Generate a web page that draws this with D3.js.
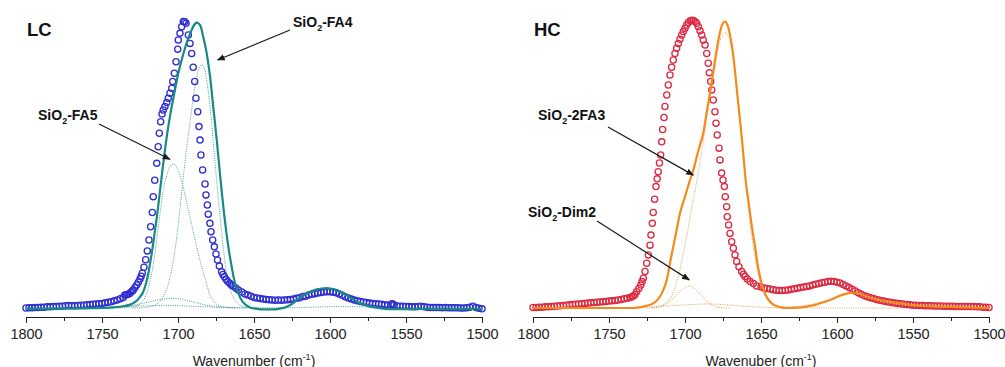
<!DOCTYPE html>
<html>
<head>
<meta charset="utf-8">
<script src="https://cdn.jsdelivr.net/npm/d3@7"></script>
<style>
  body { margin: 0; background: #fff; }
  text { font-family: "Liberation Sans", Arial, sans-serif; }
</style>
</head>
<body>
<div id="app"></div>
<script>
const WIDTH = 1005
const HEIGHT = 367

// measured spectra [wavenumber, normalised absorbance]
const lcMeasured = [
  [1800,0.000],[1798,0.001],[1796,0.001],[1794,0.002],[1792,0.002],[1790,0.003],[1788,0.003],[1786,0.004],
  [1784,0.004],[1782,0.005],[1780,0.005],[1778,0.006],[1776,0.006],[1774,0.008],[1772,0.009],[1770,0.008],
  [1768,0.008],[1766,0.009],[1764,0.010],[1762,0.010],[1760,0.011],[1758,0.012],[1756,0.013],[1754,0.014],
  [1752,0.015],[1750,0.016],[1748,0.018],[1746,0.020],[1744,0.022],[1742,0.025],[1740,0.028],[1738,0.032],
  [1736,0.037],[1735,0.045],[1734,0.046],[1733,0.048],[1732,0.050],[1731,0.055],[1730,0.059],[1729.4,0.063],
  [1728.3,0.071],[1727.2,0.080],[1726.1,0.090],[1725,0.101],[1724.2,0.111],[1723.5,0.121],[1722.4,0.142],
  [1721.3,0.168],[1720.2,0.199],[1719.1,0.237],[1718,0.283],[1716.9,0.333],[1716.3,0.388],[1715.3,0.445],
  [1714,0.504],[1713,0.562],[1712.3,0.609],[1711.4,0.649],[1710.5,0.676],[1709.7,0.690],[1708.6,0.702],
  [1707.4,0.716],[1706.4,0.731],[1705.3,0.748],[1704.1,0.766],[1703.5,0.789],[1702.4,0.818],[1701.3,0.858],
  [1700.2,0.902],[1699.8,0.934],[1698.7,0.957],[1697.6,0.980],[1696.5,0.998],[1695.6,0.997],[1694.7,0.992],
  [1693.2,0.951],[1692.1,0.922],[1691,0.887],[1690,0.839],[1689,0.789],[1688.2,0.731],[1687,0.684],
  [1686.2,0.632],[1685.5,0.585],[1684.9,0.533],[1683.8,0.481],[1682.2,0.432],[1681.6,0.394],[1680.7,0.359],
  [1680.1,0.327],[1679,0.295],[1678.3,0.266],[1677.2,0.237],[1676.1,0.213],[1675,0.188],[1674,0.167],
  [1672.8,0.146],[1671.3,0.126],[1670.4,0.117],[1669.5,0.109],[1668.4,0.100],[1667.3,0.092],[1666,0.086],
  [1665,0.081],[1664,0.077],[1662,0.070],[1660.3,0.063],[1658,0.056],[1656,0.049],[1654,0.045],[1652,0.041],
  [1650,0.037],[1648,0.035],[1646,0.033],[1644,0.031],[1642,0.030],[1640,0.029],[1638,0.028],[1636,0.027],
  [1634,0.028],[1632,0.027],[1630,0.028],[1628,0.029],[1626,0.030],[1624,0.031],[1622,0.034],[1620,0.036],
  [1618,0.040],[1616,0.041],[1614,0.045],[1612,0.048],[1610,0.050],[1608,0.052],[1606,0.054],[1604,0.056],
  [1602,0.057],[1600,0.057],[1598,0.055],[1596,0.053],[1594,0.049],[1592,0.044],[1590,0.039],[1588,0.035],
  [1586,0.031],[1584,0.028],[1582,0.025],[1580,0.023],[1578,0.021],[1576,0.019],[1574,0.017],[1572,0.016],
  [1570,0.015],[1568,0.014],[1566,0.013],[1564,0.011],[1562,0.010],[1560,0.012],[1559,0.015],[1558,0.011],
  [1556,0.007],[1554,0.006],[1552,0.006],[1550,0.005],[1548,0.005],[1546,0.004],[1544,0.004],[1542,0.005],
  [1540,0.006],[1538,0.004],[1536,0.003],[1534,0.002],[1532,0.002],[1530,0.002],[1528,0.002],[1526,0.001],
  [1524,0.002],[1522,0.001],[1520,0.001],[1518,0.001],[1516,0.001],[1514,0.000],[1512,0.000],[1510,0.001],
  [1508,0.003],[1506,0.006],[1504,0.002],[1502,-0.001],[1500,-0.003]
]

const hcMeasured = [
  [1800,0.002],[1798,0.002],[1796,0.003],[1794,0.003],[1792,0.004],[1790,0.004],[1788,0.005],[1786,0.006],
  [1784,0.007],[1782,0.008],[1780,0.009],[1778,0.010],[1776,0.011],[1774,0.012],[1772,0.013],[1770,0.014],
  [1768,0.015],[1766,0.016],[1764,0.017],[1762,0.018],[1760,0.019],[1758,0.020],[1756,0.021],[1754,0.022],
  [1752,0.023],[1750,0.024],[1748,0.025],[1746,0.026],[1744,0.028],[1742,0.030],[1740,0.032],[1738,0.034],
  [1736,0.037],[1735,0.039],[1734,0.042],[1733,0.046],[1731.8,0.057],[1730.4,0.068],[1729.1,0.080],
  [1728.2,0.092],[1727.4,0.104],[1726.3,0.127],[1725.2,0.156],[1724.1,0.185],[1723,0.219],[1722.4,0.254],
  [1721.5,0.295],[1720.9,0.333],[1720,0.379],[1719.1,0.423],[1718.3,0.450],[1717.6,0.475],[1716.8,0.505],
  [1716,0.533],[1715.3,0.579],[1714.7,0.622],[1713.8,0.664],[1713.2,0.702],[1712,0.742],[1711,0.777],
  [1709.9,0.812],[1708.8,0.839],[1707.7,0.864],[1706.6,0.887],[1705.5,0.905],[1704.4,0.922],[1703.3,0.936],
  [1702.2,0.951],[1701.1,0.963],[1700,0.975],[1698.9,0.986],[1697.8,0.995],[1696.7,1.000],[1695.6,1.003],
  [1694.5,1.002],[1693.4,0.998],[1692.3,0.992],[1691.2,0.980],[1690.1,0.966],[1689,0.951],[1688,0.934],
  [1686.8,0.916],[1685.7,0.887],[1684.7,0.853],[1684,0.820],[1683.1,0.789],[1682.4,0.760],[1681.4,0.725],
  [1680.3,0.684],[1679.6,0.644],[1678.8,0.603],[1677.6,0.557],[1677,0.516],[1675.9,0.470],[1675,0.446],
  [1674.1,0.423],[1673.5,0.388],[1672.6,0.353],[1672.2,0.318],[1671.3,0.289],[1670.4,0.260],[1669.3,0.231],
  [1668.2,0.208],[1667.1,0.185],[1666,0.162],[1664.5,0.144],[1662.7,0.127],[1661.5,0.118],[1660.5,0.110],
  [1659,0.101],[1657.2,0.092],[1655,0.085],[1652.8,0.077],[1650,0.073],[1648,0.070],[1646,0.068],
  [1644,0.066],[1642,0.064],[1640,0.062],[1638,0.061],[1636,0.061],[1634,0.062],[1632,0.063],[1630,0.065],
  [1628,0.067],[1626,0.069],[1624,0.071],[1622,0.073],[1620,0.075],[1618,0.077],[1616,0.080],[1614,0.083],
  [1612,0.085],[1610,0.088],[1608,0.090],[1606,0.092],[1604,0.093],[1602,0.092],[1600,0.090],[1598,0.087],
  [1596,0.082],[1594,0.077],[1592,0.071],[1590,0.065],[1588,0.059],[1586,0.053],[1584,0.048],[1582,0.043],
  [1580,0.039],[1578,0.036],[1576,0.033],[1574,0.030],[1572,0.027],[1570,0.025],[1568,0.023],[1566,0.021],
  [1564,0.019],[1562,0.017],[1560,0.016],[1558,0.015],[1556,0.013],[1554,0.012],[1552,0.011],[1550,0.010],
  [1548,0.010],[1546,0.009],[1544,0.009],[1542,0.008],[1540,0.008],[1538,0.008],[1536,0.007],[1534,0.007],
  [1532,0.007],[1530,0.006],[1528,0.006],[1526,0.006],[1524,0.006],[1522,0.005],[1520,0.005],[1518,0.005],
  [1516,0.005],[1514,0.005],[1512,0.005],[1510,0.005],[1508,0.004],[1506,0.004],[1504,0.003],[1502,0.003],
  [1500,0.002]
]

// calculated spectra (solid)
const lcFit = [
  [1800,-0.002],[1780,-0.002],[1760,-0.001],[1750,0.000],[1742,0.002],[1736,0.006],[1732,0.011],[1729.4,0.017],
  [1727,0.026],[1725,0.039],[1723,0.055],[1721.7,0.074],[1720.5,0.097],[1719.5,0.121],[1718,0.167],
  [1716.6,0.214],[1715.1,0.272],[1713.6,0.330],[1712.3,0.388],[1711,0.446],[1708.6,0.550],[1706.4,0.632],
  [1704.1,0.702],[1702,0.760],[1699.8,0.818],[1697.6,0.864],[1695.4,0.905],[1693.2,0.940],[1691,0.969],
  [1688.8,0.990],[1687.7,0.994],[1685.5,0.986],[1683.4,0.945],[1681.1,0.887],[1678.9,0.806],[1676.8,0.701],
  [1674.5,0.585],[1672.4,0.469],[1671.3,0.410],[1669.7,0.330],[1668.4,0.272],[1666.9,0.214],[1665.1,0.156],
  [1663,0.098],[1660.3,0.051],[1658,0.026],[1655.9,0.013],[1652.6,0.002],[1648,-0.003],[1643.9,-0.005],
  [1638,-0.005],[1632.9,-0.002],[1629,0.003],[1626.3,0.010],[1624,0.018],[1621.9,0.028],[1618.5,0.040],
  [1615.3,0.051],[1612,0.059],[1608.8,0.065],[1605.5,0.068],[1602.2,0.069],[1598.9,0.067],[1595.6,0.063],
  [1592.3,0.055],[1589,0.045],[1585.7,0.033],[1582.4,0.022],[1578,0.012],[1573.7,0.005],[1568,0.000],
  [1562.7,-0.004],[1550,-0.004],[1530,-0.003],[1500,-0.003]
]

const hcFit = [
  [1800,0.000],[1760,0.000],[1745,0.000],[1734,0.000],[1727.4,0.005],[1720.9,0.016],[1715.3,0.051],
  [1712,0.098],[1709.9,0.156],[1707.7,0.214],[1705.5,0.272],[1703.3,0.330],[1700,0.388],[1696.7,0.446],
  [1694,0.490],[1692.3,0.527],[1690,0.570],[1688,0.609],[1685.8,0.680],[1683.6,0.748],[1681.5,0.820],
  [1679.2,0.899],[1677,0.960],[1675.5,0.988],[1673.7,0.998],[1671.8,0.982],[1670,0.940],[1668.5,0.890],
  [1667,0.820],[1665.5,0.740],[1664,0.665],[1662.6,0.590],[1661.2,0.510],[1659.9,0.435],[1658.3,0.375],
  [1657.2,0.330],[1655.7,0.272],[1653.9,0.214],[1652.4,0.156],[1650.2,0.098],[1647.4,0.051],[1643,0.016],
  [1638,0.004],[1632,0.000],[1626,0.001],[1620,0.005],[1615,0.010],[1611,0.017],[1606,0.025],[1602,0.034],
  [1597,0.045],[1592,0.052],[1589,0.054],[1586,0.051],[1582,0.043],[1577,0.034],[1572,0.028],[1566,0.022],
  [1561,0.018],[1555,0.014],[1550,0.010],[1540,0.007],[1532,0.005],[1515,0.002],[1500,0.000]
]

// band components (dotted)
const lcFA4 = [
  [1730,0],[1722,0.002],[1716,0.008],[1711,0.030],[1706,0.090],[1702,0.200],[1699,0.330],[1697,0.430],
  [1694.5,0.550],[1692,0.650],[1689.5,0.750],[1687,0.820],[1684.4,0.847],[1682,0.820],[1680,0.750],
  [1678,0.650],[1676,0.530],[1674,0.410],[1672,0.300],[1670,0.200],[1668,0.120],[1665,0.055],[1661,0.018],
  [1656,0.004],[1648,0]
]
const lcFA5 = [
  [1740,0],[1730,0.004],[1724,0.020],[1720,0.060],[1716,0.160],[1713,0.280],[1710,0.400],[1707,0.470],
  [1703,0.502],[1700,0.480],[1697,0.430],[1694,0.360],[1691,0.290],[1688,0.220],[1685,0.155],[1682,0.100],
  [1679,0.045],[1676,0.020],[1673,0.008],[1669,0.003],[1662,0]
]
const lcBroad1 = [
  [1745,0],[1735,0.005],[1725,0.014],[1715,0.026],[1708,0.032],[1704,0.034],[1699,0.032],[1692,0.024],
  [1684,0.013],[1675,0.005],[1665,0.001],[1655,0]
]
const lcBroad2 = [
  [1770,0],[1750,0.002],[1735,0.005],[1720,0.008],[1710,0.009],[1700,0.008],[1685,0.005],[1670,0.002],
  [1650,0.001],[1630,0.001],[1610,0.003],[1595,0.005],[1580,0.004],[1560,0.002],[1540,0.001],[1520,0]
]
const hc2FA3 = [
  [1725,0],[1718,0.005],[1712,0.020],[1708,0.050],[1704,0.120],[1700,0.220],[1695.5,0.350],[1692,0.450],
  [1688,0.580],[1684,0.720],[1680,0.850],[1677,0.930],[1673.5,0.960],[1670,0.920],[1666,0.770],[1662,0.550],
  [1658,0.330],[1654,0.180],[1650,0.080],[1646,0.030],[1640,0.008],[1632,0]
]
const hcDim2 = [
  [1722,0],[1716,0.005],[1711,0.018],[1706,0.042],[1701.5,0.066],[1697.5,0.077],[1693.5,0.067],
  [1689.5,0.045],[1685.5,0.022],[1681,0.007],[1676,0.001],[1670,0]
]
const hcBroad1 = [
  [1745,0],[1730,0.002],[1715,0.006],[1700,0.011],[1685,0.014],[1670,0.010],[1655,0.004],[1640,0.001],
  [1620,0],[1580,0],[1540,0],[1500,0]
]
const hcBand1590 = [
  [1640,0],[1625,0.006],[1612,0.018],[1602,0.033],[1594,0.048],[1589,0.053],[1584,0.048],[1576,0.034],
  [1566,0.020],[1555,0.010],[1540,0.003],[1520,0]
]

const majorTicks = [1800, 1750, 1700, 1650, 1600, 1550, 1500]
const minorTicks = [1775, 1725, 1675, 1625, 1575, 1525]

const panels = [
  {
    title: 'LC', xLabel: 'Wavenumber (cm', left: 26,
    measured: lcMeasured, fit: lcFit, parts: [lcBroad2, lcBroad1, lcFA5, lcFA4],
    ring: '#2f2fd0', line: '#178a83', dot: '#4e9c97',
    notes: [
      { pre: 'SiO', post: '-FA4', tx: 293, ty: 27, from: [290, 30], to: [1674, 0.864] },
      { pre: 'SiO', post: '-FA5', tx: 38, ty: 120, from: [99, 124], to: [1705.3, 0.518] }
    ]
  },
  {
    title: 'HC', xLabel: 'Wavenuber (cm', left: 533,
    measured: hcMeasured, fit: hcFit, parts: [hcBroad1, hcBand1590, hcDim2, hc2FA3],
    ring: '#db2a42', line: '#f38b1c', dot: '#dca35e',
    notes: [
      { pre: 'SiO', post: '-2FA3', tx: 538, ty: 120, from: [608, 127], to: [1694.5, 0.463] },
      { pre: 'SiO', post: '-Dim2', tx: 528, ty: 217, from: [597, 221], to: [1697.2, 0.098] }
    ]
  }
]

const svg = d3.select('#app').append('svg')
  .attr('width', WIDTH)
  .attr('height', HEIGHT)

svg.append('defs').append('marker')
  .attr('id', 'head')
  .attr('viewBox', '0 0 10 10')
  .attr('refX', 9).attr('refY', 5)
  .attr('markerWidth', 8).attr('markerHeight', 8)
  .attr('markerUnits', 'userSpaceOnUse')
  .attr('orient', 'auto')
.append('path')
  .attr('d', 'M0,1 L10,5 L0,9 Z')
  .attr('fill', '#1a1a1a')

const y = d3.scaleLinear().domain([0, 1]).range([308, 21])
const AXIS_Y = 317

panels.forEach(p => {
  const x = d3.scaleLinear().domain([1800, 1500]).range([p.left, p.left + 456])
  const line = d3.line()
    .x(d => x(d[0]))
    .y(d => y(d[1]))
    .curve(d3.curveMonotoneX)

  const g = svg.append('g')

  // components
  g.selectAll('path.part')
    .data(p.parts)
    .enter()
  .append('path')
    .attr('class', 'part')
    .attr('d', line)
    .attr('fill', 'none')
    .attr('stroke', p.dot)
    .attr('stroke-width', 1)
    .attr('stroke-dasharray', '1,1.3')

  // measured points
  g.selectAll('circle')
    .data(p.measured)
    .enter()
  .append('circle')
    .attr('cx', d => x(d[0]))
    .attr('cy', d => y(d[1]))
    .attr('r', 3.1)
    .attr('fill', 'none')
    .attr('stroke', p.ring)
    .attr('stroke-width', 1.3)

  // calculated spectrum
  g.append('path')
    .attr('d', line(p.fit))
    .attr('fill', 'none')
    .attr('stroke', p.line)
    .attr('stroke-width', 2.2)

  // axes
  const axis = g.append('g')
    .attr('transform', `translate(0, ${AXIS_Y})`)
    .call(d3.axisBottom(x).tickValues(majorTicks).tickSize(6).tickSizeOuter(0).tickPadding(6).tickFormat(d3.format('d')))
  axis.select('.domain').attr('stroke', '#222')
  axis.selectAll('.tick line').attr('stroke', '#222')
  axis.selectAll('.tick text')
    .attr('font-size', 14.5)
    .attr('fill', '#222')
    .style('font-family', '"Liberation Sans", Arial, sans-serif')

  g.append('g')
    .attr('transform', `translate(0, ${AXIS_Y})`)
    .call(d3.axisBottom(x).tickValues(minorTicks).tickSize(4).tickSizeOuter(0).tickFormat(''))
    .call(a => a.select('.domain').remove())
    .selectAll('.tick line').attr('stroke', '#222')

  const xl = g.append('text')
    .attr('x', p.left + 228)
    .attr('y', 365.5)
    .attr('text-anchor', 'middle')
    .attr('font-size', 14)
    .attr('fill', '#222')
  xl.append('tspan').text(p.xLabel)
  xl.append('tspan').attr('font-size', 9).attr('dy', -6).text('-1')
  xl.append('tspan').attr('dy', 6).text(')')

  // panel tag
  g.append('text')
    .attr('x', p.left + 1)
    .attr('y', 36)
    .attr('font-size', 18.5)
    .attr('font-weight', 'bold')
    .attr('fill', '#111')
    .text(p.title)

  // annotations
  p.notes.forEach(n => {
    const t = g.append('text')
      .attr('x', n.tx)
      .attr('y', n.ty)
      .attr('font-size', 14)
      .attr('font-weight', 'bold')
      .attr('fill', '#111')
    t.append('tspan').text(n.pre)
    t.append('tspan').attr('font-size', 9).attr('dy', 4).text('2')
    t.append('tspan').attr('dy', -4).text(n.post)

    g.append('line')
      .attr('x1', n.from[0]).attr('y1', n.from[1])
      .attr('x2', x(n.to[0])).attr('y2', y(n.to[1]))
      .attr('stroke', '#1a1a1a')
      .attr('stroke-width', 1.2)
      .attr('marker-end', 'url(#head)')
  })
})
</script>
</body>
</html>
